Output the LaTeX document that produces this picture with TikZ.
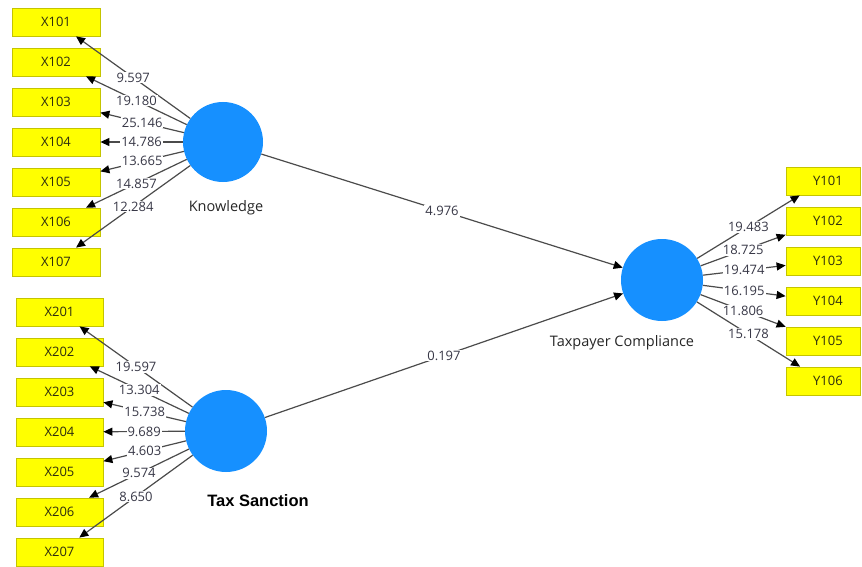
\documentclass[tikz,border=0pt]{standalone}
\usepackage{fontspec}
\setmainfont{Open Sans}
\newfontfamily\boldsans{Liberation Sans}
\usetikzlibrary{arrows.meta}
\definecolor{lv}{RGB}{22,144,255}
\definecolor{boxfill}{RGB}{255,255,0}
\definecolor{boxdraw}{RGB}{196,196,0}
\definecolor{linec}{RGB}{75,75,75}
\definecolor{numc}{RGB}{55,55,70}
\definecolor{boxtext}{RGB}{45,45,15}
\tikzset{
  latent/.style={circle,fill=lv,draw=none,inner sep=0pt},
  ind/.style={rectangle,fill=boxfill,draw=boxdraw,line width=0.8pt,minimum height=28pt,inner sep=0pt,font=\fontsize{13}{13}\selectfont,text=boxtext},
  indx/.style={ind,minimum width=88pt},
  indy/.style={ind,minimum width=74pt},
  arr/.style={draw=linec,line width=1.2pt,-{Triangle[length=9pt,width=8pt,black]}},
  lab/.style={fill=white,inner sep=1pt,text=numc,font=\fontsize{13}{13}\selectfont},
  lvname/.style={font=\fontsize{14.5}{14.5}\selectfont,text=black!85}
}
\begin{document}
\begin{tikzpicture}[x=1pt,y=-1pt]
\useasboundingbox (0,0) rectangle (862,567);
% latent variables
\node[latent,minimum size=80pt] (K) at (223,142) {};
\node[latent,minimum size=82pt] (TS) at (226,431) {};
\node[latent,minimum size=82pt] (TC) at (662,280) {};
\node[lvname] (Kname) at (226,208) {Knowledge};
\node[font=\boldsans\bfseries\fontsize{16.5}{16.5}\selectfont] (TSname) at (258,501) {Tax Sanction};
\node[lvname] (TCname) at (622,343) {Taxpayer Compliance};
% indicators
\foreach \i in {1,...,7}{
  \node[indx] (X10\i) at (56,{22+40*(\i-1)}) {X10\i};
  \node[indx,minimum width=87pt] (X20\i) at (59.5,{312+40*(\i-1)}) {X20\i};
}
\foreach \i in {1,...,6}{
  \node[indy] (Y10\i) at (823,{181+40*(\i-1)}) {\hspace{10pt}Y10\i};
}
% Knowledge loadings
\draw[arr] (K) -- node[lab]{9.597} (X101);
\draw[arr] (K) -- node[lab]{19.180} (X102);
\draw[arr] (K) -- node[lab]{25.146} (X103);
\draw[arr] (K) -- node[lab]{14.786} (X104);
\draw[arr] (K) -- node[lab]{13.665} (X105);
\draw[arr] (K) -- node[lab]{14.857} (X106);
\draw[arr] (K) -- node[lab]{12.284} (X107);
% Tax Sanction loadings
\draw[arr] (TS) -- node[lab]{19.597} (X201);
\draw[arr] (TS) -- node[lab]{13.304} (X202);
\draw[arr] (TS) -- node[lab]{15.738} (X203);
\draw[arr] (TS) -- node[lab]{9.689} (X204);
\draw[arr] (TS) -- node[lab]{4.603} (X205);
\draw[arr] (TS) -- node[lab]{9.574} (X206);
\draw[arr] (TS) -- node[lab]{8.650} (X207);
% Taxpayer Compliance loadings
\draw[arr] (TC) -- node[lab]{19.483} (Y101);
\draw[arr] (TC) -- node[lab]{18.725} (Y102);
\draw[arr] (TC) -- node[lab]{19.474} (Y103);
\draw[arr] (TC) -- node[lab]{16.195} (Y104);
\draw[arr] (TC) -- node[lab]{11.806} (Y105);
\draw[arr] (TC) -- node[lab]{15.178} (Y106);
% structural paths
\draw[arr] (K) -- node[lab]{4.976} (TC);
\draw[arr] (TS) -- node[lab]{0.197} (TC);
\end{tikzpicture}
\end{document}
